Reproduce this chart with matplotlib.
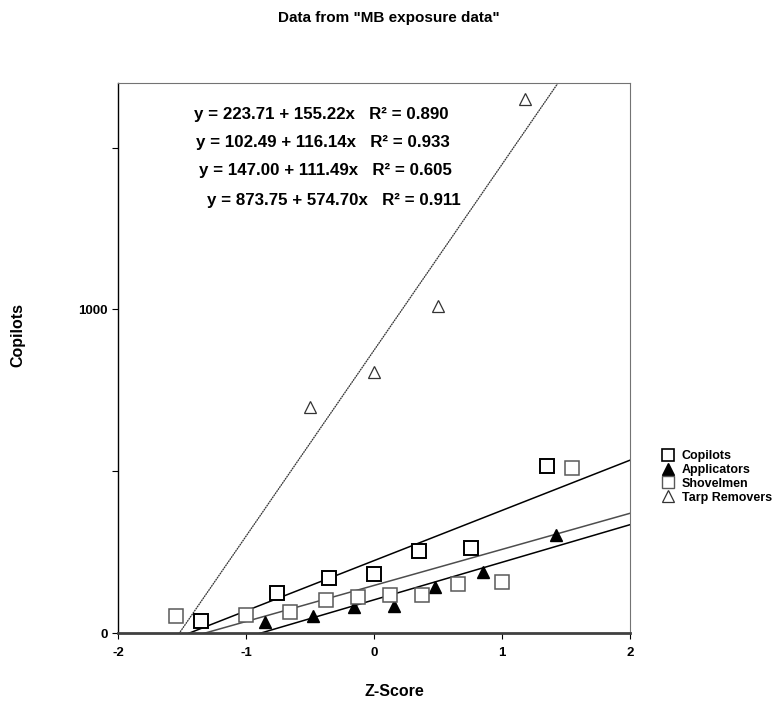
import numpy as np
import matplotlib.pyplot as plt
from matplotlib.lines import Line2D

plt.rcParams['font.family'] = ['Liberation Sans', 'DejaVu Sans']
plt.rcParams['font.weight'] = 'bold'

# data (z-score, value)
copilots_z = [-1.352, -0.757, -0.353, 0.0, 0.353, 0.757, 1.352]
copilots_y = [36, 123, 171, 183, 254, 264, 516]

applicators_z = [-0.852, -0.473, -0.153, 0.153, 0.473, 0.852, 1.424]
applicators_y = [34, 53, 79, 84, 142, 190, 303]

shovelmen_z = [-1.547, -1.0, -0.655, -0.375, -0.123, 0.123, 0.375, 0.655, 1.0, 1.547]
shovelmen_y = [53, 56, 65, 101, 111, 119, 118, 152, 159, 510]

tarp_z = [-0.497, 0.0, 0.497, 1.18]
tarp_y = [698, 806, 1012, 1652]

# fitted lines: intercept, slope, r2
fits = {
    'Copilots': (223.71, 155.22, 0.890),
    'Applicators': (102.49, 116.14, 0.933),
    'Shovelmen': (147.00, 111.49, 0.605),
    'Tarp Removers': (873.75, 574.70, 0.911),
}

W, H = 778, 703
fig = plt.figure(figsize=(W / 100, H / 100), dpi=100)
ax = fig.add_axes([118 / W, 1 - 633 / H, 512 / W, 550 / H])

xs = np.array([-2.0, 2.0])
a, b, _ = fits['Copilots']
ax.plot(xs, a + b * xs, color='black', lw=1.1)
a, b, _ = fits['Applicators']
ax.plot(xs, a + b * xs, color='black', lw=1.1)
a, b, _ = fits['Shovelmen']
ax.plot(xs, a + b * xs, color='0.3', lw=1.1)
a, b, _ = fits['Tarp Removers']
ax.plot(xs, a + b * xs, color='0.2', lw=0.9, ls=(0, (1.5, 0.5)))

ax.plot(copilots_z, copilots_y, 's', ms=9.5, mfc='white', mec='black', mew=1.4, ls='none')
ax.plot(applicators_z, applicators_y, '^', ms=8, mfc='black', mec='black', ls='none')
ax.plot(shovelmen_z, shovelmen_y, 's', ms=9.5, mfc='white', mec='0.35', mew=1.1, ls='none')
ax.plot(tarp_z, tarp_y, '^', ms=8, mfc='white', mec='0.2', mew=0.9, ls='none')

ax.set_xlim(-2, 2)
ax.set_ylim(0, 1700)
ax.set_xticks([-2, -1, 0, 1, 2])
ax.set_xticklabels(['-2', '-1', '0', '1', '2'], fontsize=9.5, fontweight='bold')
ax.set_yticks([0, 500, 1000, 1500])
ax.set_yticklabels(['0', '', '1000', ''], fontsize=9.5, fontweight='bold')
ax.tick_params(direction='out', length=4, width=0.8)
ax.tick_params(axis='x', pad=6)
ax.spines['bottom'].set_linewidth(2.0)
ax.spines['bottom'].set_color('0.25')
ax.spines['left'].set_linewidth(1.0)
ax.spines['top'].set_color('0.45')
ax.spines['right'].set_color('0.45')

fig.text(389 / W, 1 - 18 / H, 'Data from "MB exposure data"', ha='center', va='center',
         fontsize=11, fontweight='bold')
fig.text(394 / W, 1 - 692 / H, 'Z-Score', ha='center', va='center', fontsize=11.5, fontweight='bold')
fig.text(18 / W, 1 - 335 / H, 'Copilots', ha='center', va='center', rotation=90,
         fontsize=11.5, fontweight='bold')

eq_pos = [(194, 114), (196, 142), (199, 170), (207, 200)]
for (name, (a, b, r2)), (px, py) in zip(fits.items(), eq_pos):
    fig.text(px / W, 1 - py / H, f'y = {a:.2f} + {b:.2f}x   R\u00b2 = {r2:.3f}',
             ha='left', va='center', fontsize=12.2, fontweight='bold')

handles = [
    Line2D([], [], marker='s', ms=9, mfc='white', mec='black', mew=1.2, ls='none'),
    Line2D([], [], marker='^', ms=8, mfc='black', mec='black', ls='none'),
    Line2D([], [], marker='s', ms=9, mfc='white', mec='0.35', mew=1.0, ls='none'),
    Line2D([], [], marker='^', ms=8, mfc='white', mec='0.2', mew=0.9, ls='none'),
]
fig.legend(handles, list(fits.keys()), loc='upper left',
           bbox_to_anchor=(662 / W, 1 - 450 / H), frameon=False,
           prop={'size': 9, 'weight': 'bold'}, handlelength=1.0,
           handletextpad=0.6, labelspacing=0.15, borderpad=0, borderaxespad=0)

fig.savefig('out.png', dpi=100)
